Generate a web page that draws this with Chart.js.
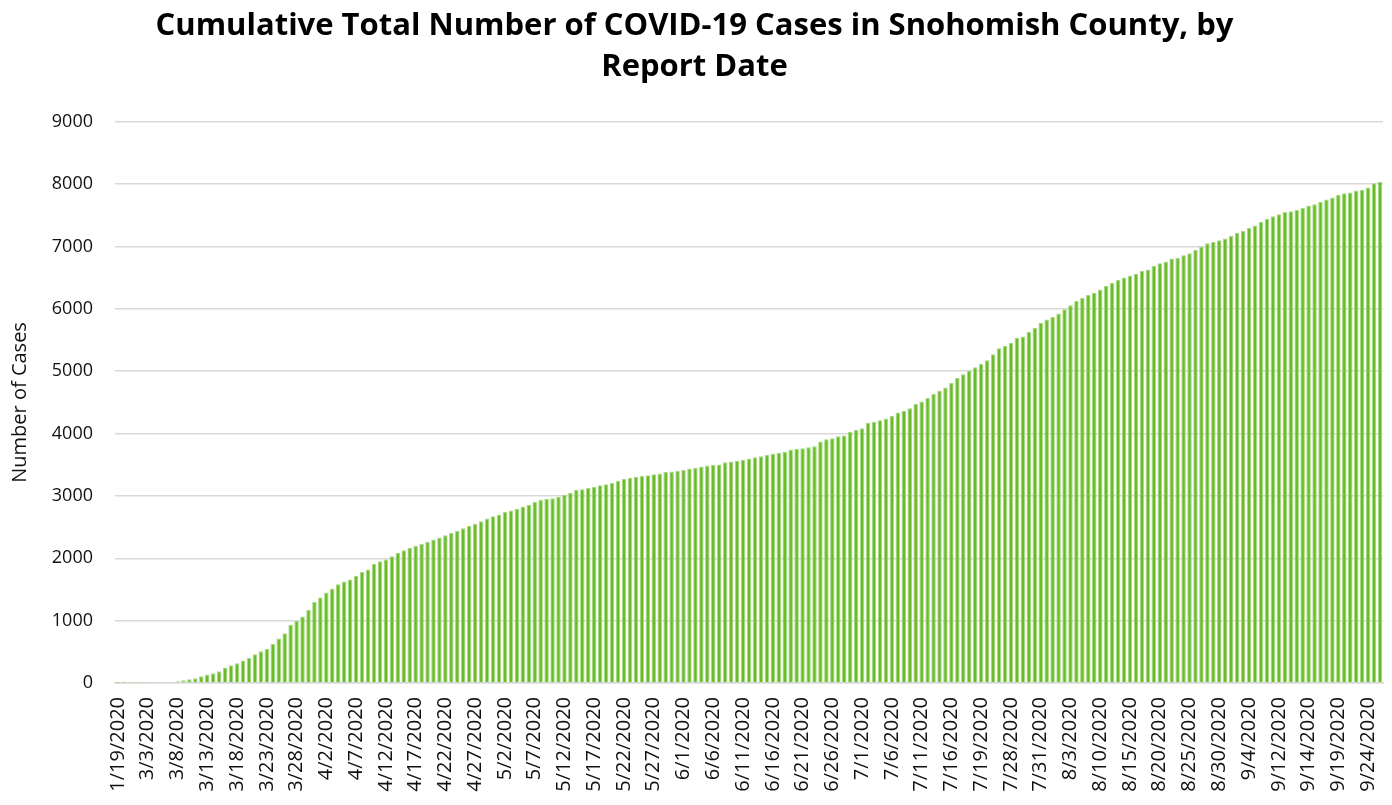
<!DOCTYPE html>
<html>
<head>
<meta charset="utf-8">
<script src="https://cdn.jsdelivr.net/npm/chart.js@4"></script>
<style>
  body { margin: 0; background: #fff; }
  #chart { display: block; }
</style>
</head>
<body>
<canvas id="chart" width="1392" height="805"></canvas>
<script>

// data

// labels shown on the x axis, one every 5 bars
const tickLabels = [
  '1/19/2020', '3/3/2020', '3/8/2020', '3/13/2020', '3/18/2020', '3/23/2020',
  '3/28/2020', '4/2/2020', '4/7/2020', '4/12/2020', '4/17/2020', '4/22/2020',
  '4/27/2020', '5/2/2020', '5/7/2020', '5/12/2020', '5/17/2020', '5/22/2020',
  '5/27/2020', '6/1/2020', '6/6/2020', '6/11/2020', '6/16/2020', '6/21/2020',
  '6/26/2020', '7/1/2020', '7/6/2020', '7/11/2020', '7/16/2020', '7/19/2020',
  '7/28/2020', '7/31/2020', '8/3/2020', '8/10/2020', '8/15/2020', '8/20/2020',
  '8/25/2020', '8/30/2020', '9/4/2020', '9/12/2020', '9/14/2020', '9/19/2020',
  '9/24/2020'
];

// cumulative cases, one per report date
const cases = [
  1, 2, 3, 4, 5, 8, 10, 12, 15, 16,
  27, 43, 59, 76, 108, 135, 157, 189, 248, 286,
  318, 360, 405, 462, 508, 546, 631, 712, 797, 936,
  1000, 1065, 1172, 1300, 1370, 1450, 1514, 1584, 1626, 1658,
  1717, 1782, 1819, 1910, 1953, 1980, 2033, 2087, 2130, 2165,
  2200, 2230, 2265, 2300, 2335, 2370, 2405, 2440, 2480, 2520,
  2555, 2595, 2638, 2675, 2702, 2745, 2766, 2793, 2830, 2856,
  2904, 2941, 2957, 2963, 2989, 3021, 3053, 3096, 3106, 3133,
  3149, 3170, 3186, 3207, 3245, 3277, 3293, 3303, 3319, 3330,
  3346, 3362, 3383, 3394, 3405, 3415, 3441, 3452, 3473, 3489,
  3500, 3505, 3542, 3553, 3564, 3580, 3601, 3622, 3638, 3660,
  3676, 3691, 3707, 3745, 3755, 3764, 3783, 3797, 3874, 3908,
  3924, 3957, 3968, 4027, 4059, 4086, 4173, 4189, 4216, 4243,
  4286, 4340, 4362, 4405, 4475, 4513, 4572, 4637, 4686, 4740,
  4815, 4891, 4950, 5010, 5064, 5122, 5175, 5271, 5367, 5404,
  5457, 5537, 5558, 5633, 5697, 5777, 5830, 5872, 5926, 5995,
  6059, 6128, 6180, 6223, 6258, 6312, 6367, 6420, 6463, 6505,
  6537, 6558, 6606, 6633, 6691, 6734, 6761, 6808, 6819, 6862,
  6894, 6947, 7000, 7053, 7074, 7101, 7130, 7170, 7218, 7250,
  7299, 7337, 7395, 7444, 7486, 7519, 7556, 7567, 7588, 7620,
  7658, 7679, 7716, 7754, 7786, 7829, 7856, 7866, 7898, 7909,
  7947, 8016, 8037
];

const titleLines = [
  'Cumulative Total Number of COVID-19 Cases in Snohomish County, by',
  'Report Date'
];
const yTitle = 'Number of Cases';

// one category per bar, only every 5th one gets a visible label
const categories = cases.map((v, i) => (i % 5 === 0 ? tickLabels[i / 5] : ''));

const FONT = "'Open Sans', 'Liberation Sans', sans-serif";
const TXT = '#111';
const GRID = '#d9d9d9';

const config = {
  type: 'bar',
  data: {
    labels: categories,
    datasets: [{
      label: 'Cases',
      data: cases,
      backgroundColor: '#69bc27',
      borderColor: '#a6d985',
      borderWidth: 1,
      barPercentage: 0.76,
      categoryPercentage: 1
    }]
  },
  options: {
    responsive: false,
    animation: false,
    devicePixelRatio: 1,
    layout: { padding: { left: 6, right: 9, top: 0, bottom: 0 } },
    plugins: {
      legend: { display: false },
      tooltip: { enabled: false },
      title: {
        display: true,
        text: titleLines,
        color: '#000',
        font: { family: FONT, size: 31, weight: 'bold', lineHeight: 1.32 },
        padding: { top: 6, bottom: 34 }
      }
    },
    scales: {
      x: {
        type: 'category',
        grid: { display: false },
        border: { display: true, color: GRID, width: 1.5 },
        ticks: {
          autoSkip: false,
          minRotation: 90,
          maxRotation: 90,
          padding: 6,
          color: TXT,
          font: { family: FONT, size: 20 }
        },
        // fixed axis band so the plot bottom sits where the reference has it
        afterFit: (s) => { s.height = 122; s.paddingRight = 9; s.paddingLeft = 0; }
      },
      y: {
        min: 0,
        max: 9000,
        grid: { color: GRID, lineWidth: 1.5, drawTicks: false },
        border: { display: false },
        ticks: {
          stepSize: 1000,
          padding: 22,
          color: TXT,
          font: { family: FONT, size: 18 },
          callback: (v) => String(v)
        },
        title: {
          display: true,
          text: yTitle,
          color: TXT,
          font: { family: FONT, size: 20 },
          padding: { top: 2, bottom: 6 }
        },
        afterFit: (s) => { s.width = 109; }
      }
    }
  }
};

var chart = null;

document.addEventListener('DOMContentLoaded', () => {
  chart = new Chart(document.getElementById('chart'), config);
});

</script>
</body>
</html>
